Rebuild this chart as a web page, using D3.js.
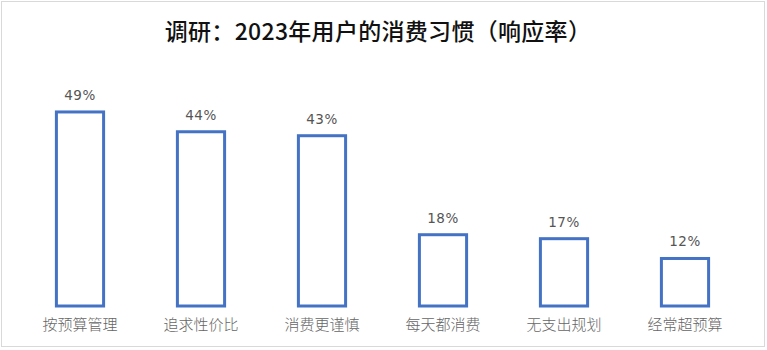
<!DOCTYPE html>
<html>
<head>
<meta charset="utf-8">
<script src="https://cdn.jsdelivr.net/npm/d3@7/dist/d3.min.js"></script>
<style>
  html, body { margin: 0; padding: 0; background: #fff; }
  svg { display: block; }
</style>
</head>
<body>
<svg id="chart" width="767" height="350"></svg>
<script>
// Survey: 2023 consumer spending habits (response rate, %)
const categories = ["按预算管理", "追求性价比", "消费更谨慎", "每天都消费", "无支出规划", "经常超预算"];
const rates = [49, 44, 43, 18, 17, 12];
const titleText = "调研：2023年用户的消费习惯（响应率）";

const W = 767, H = 350;
const svg = d3.select("#chart");

// outer frame
svg.append("rect")
  .attr("x", 1.5).attr("y", 1.5)
  .attr("width", W - 4).attr("height", H - 5)
  .attr("fill", "#fff")
  .attr("stroke", "#d9d9d9").attr("stroke-width", 1);

svg.append("text")
  .attr("x", 378).attr("y", 40)
  .attr("text-anchor", "middle")
  .attr("font-family", "'Noto Sans CJK SC', sans-serif")
  .attr("font-size", 23)
  .attr("font-weight", 500)
  .attr("letter-spacing", 0.3)
  .attr("fill", "#111")
  .text(titleText);

const x = d3.scaleBand()
  .domain(categories)
  .range([19.5, 745.5])
  .paddingInner(0.61)
  .paddingOuter(0.305);

const y = d3.scaleLinear()
  .domain([0, 60])
  .range([306, 68.4]);

const bars = svg.append("g");
bars.selectAll("rect")
  .data(rates)
  .join("rect")
  .attr("x", (d, i) => x(categories[i]))
  .attr("y", d => y(d))
  .attr("width", x.bandwidth())
  .attr("height", d => y(0) - y(d))
  .attr("fill", "#fff")
  .attr("stroke", "#4472c4")
  .attr("stroke-width", 3);

bars.selectAll("text.val")
  .data(rates)
  .join("text")
  .attr("class", "val")
  .attr("x", (d, i) => x(categories[i]) + x.bandwidth() / 2)
  .attr("y", d => y(d) - 12)
  .attr("text-anchor", "middle")
  .attr("font-family", "'DejaVu Sans', sans-serif")
  .attr("font-size", 13.5)
  .attr("letter-spacing", 0.5)
  .attr("fill", "#555")
  .text(d => d + "%");

// category axis labels (no axis line)
const xAxis = d3.axisBottom(x).tickSize(0).tickPadding(13);
const gx = svg.append("g")
  .attr("transform", `translate(0, ${y(0)})`)
  .call(xAxis);
gx.select(".domain").remove();
gx.selectAll("text")
  .attr("font-family", "'Noto Sans CJK SC', sans-serif")
  .attr("font-size", 15)
  .attr("font-weight", 300)
  .attr("fill", "#666");
</script>
</body>
</html>
